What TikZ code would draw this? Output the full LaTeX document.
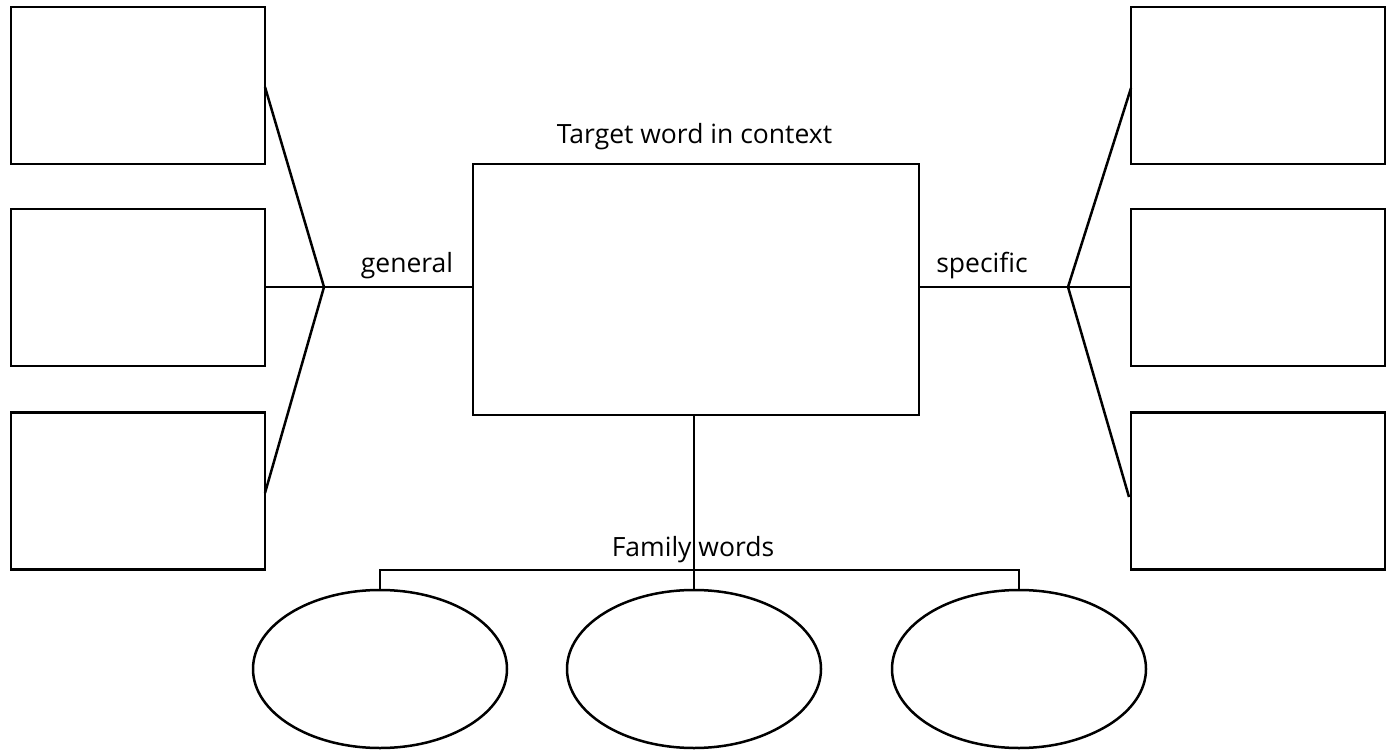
\documentclass[tikz,border=0pt]{standalone}
\usepackage{fontspec}
\setmainfont{Open Sans}
\usetikzlibrary{shapes.geometric,calc}
\begin{document}
\begin{tikzpicture}[x=1pt,y=-1pt,line width=2.5pt,
  box/.style={draw,rectangle,minimum width=254pt,minimum height=157pt,inner sep=0pt,outer sep=0pt},
  bigbox/.style={draw,rectangle,minimum width=446pt,minimum height=251pt,inner sep=0pt,outer sep=0pt},
  oval/.style={draw,ellipse,minimum width=254pt,minimum height=158pt,inner sep=0pt,outer sep=0pt},
  lbl/.style={font=\fontsize{26.5}{31}\selectfont,inner sep=0pt}]
\useasboundingbox (0,0) rectangle (1389,751);
% boxes
\node[box] (L1) at (138,85.5) {};
\node[box] (L2) at (138,287.5) {};
\node[box] (L3) at (138,491) {};
\node[box] (R1) at (1258,85.5) {};
\node[box] (R2) at (1258,287.5) {};
\node[box] (R3) at (1258,491) {};
\node[bigbox] (C) at (696,289.5) {};
% ellipses
\node[oval] (E1) at (380,669) {};
\node[oval] (E2) at (694,669) {};
\node[oval] (E3) at (1019,669) {};
% labels
\node[lbl] (t) at (694.5,137) {Target word in context};
\node[lbl] (g) at (407,266) {general};
\node[lbl] (s) at (982,266) {specific};
\node[lbl] (f) at (693,550) {Family words};
% fan coordinates
\coordinate (jl) at (324,287);
\coordinate (jr) at (1068,287);
\coordinate (l1e) at (L1.east |- 0,87);
\coordinate (l3e) at (L3.east |- 0,493);
\coordinate (r1e) at (R1.west |- 0,88);
\coordinate (r3e) at (1129,497);
% connectors
\draw (l1e) -- (jl) -- (l3e);
\draw (L2.east |- jl) -- (C.west |- jl);
\draw (r1e) -- (jr) -- (r3e);
\draw (C.east |- jr) -- (R2.west |- jr);
\draw (C.south -| E2.north) -- (E2.north);
\draw (E1.north) -- ++(0,-20) -| (E3.north);
\end{tikzpicture}
\end{document}
